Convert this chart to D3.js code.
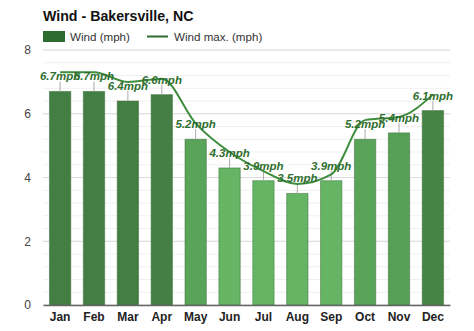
<!DOCTYPE html>
<html><head><meta charset="utf-8">
<script src="https://cdn.jsdelivr.net/npm/d3@7"></script>
<style>body{margin:0;background:#fff;}svg{display:block;font-family:"Liberation Sans",Arial,sans-serif;}</style>
</head><body>
<svg id="c" width="474" height="331"></svg>
<script>
const months = ["Jan","Feb","Mar","Apr","May","Jun","Jul","Aug","Sep","Oct","Nov","Dec"];
const wind = [6.7,6.7,6.4,6.6,5.2,4.3,3.9,3.5,3.9,5.2,5.4,6.1];
const windMax = [7.3,7.3,7.0,7.1,5.7,4.8,4.2,3.8,4.1,5.8,5.9,6.6];
const yTicks = [0,2,4,6,8];
const barColors = ["#437e43","#437e43","#437e43","#467f46","#59a459","#65b565","#65b565","#65b565","#65b565","#59a459","#56a056","#458445"];

const svg = d3.select("#c");
const m = {l:43, r:450, t:50, b:305};
const x = d3.scaleBand().domain(months).range([m.l, m.r]).paddingInner(0.37).paddingOuter(0.19);
const y = d3.scaleLinear().domain([0,8]).range([m.b, m.t]);

// minor gridlines
const minor = d3.range(0, 8.001, 0.4);
svg.append("g").selectAll("line").data(minor).join("line")
  .attr("x1", m.l).attr("x2", m.r).attr("y1", d=>y(d)).attr("y2", d=>y(d))
  .attr("stroke", "#f0f0f0").attr("stroke-width", 1);
// major gridlines
svg.append("g").selectAll("line").data(yTicks).join("line")
  .attr("x1", m.l).attr("x2", m.r).attr("y1", d=>y(d)).attr("y2", d=>y(d))
  .attr("stroke", "#dcdcdc").attr("stroke-width", 1);

// y axis
const ya = svg.append("g").attr("transform", `translate(${m.l},0)`)
  .call(d3.axisLeft(y).tickValues(yTicks).tickSize(0).tickPadding(12).tickFormat(d3.format("d")));
ya.select(".domain").remove();
ya.selectAll("text").attr("font-size", 12).attr("fill", "#444").attr("font-family", "Liberation Sans, Arial, sans-serif");

// bars
svg.append("g").selectAll("rect").data(wind).join("rect")
  .attr("x", (d,i)=>x(months[i])).attr("width", x.bandwidth())
  .attr("y", d=>y(d)).attr("height", d=>y(0)-y(d))
  .attr("fill", (d,i)=>barColors[i]).attr("stroke", "#3a6e3a").attr("stroke-opacity", 0.5).attr("stroke-width", 1);

// small ticks above bars
svg.append("g").selectAll("line").data(wind).join("line")
  .attr("x1", (d,i)=>x(months[i])+x.bandwidth()/2).attr("x2", (d,i)=>x(months[i])+x.bandwidth()/2)
  .attr("y1", d=>y(d)).attr("y2", d=>y(d)-10)
  .attr("stroke", "#aaa").attr("stroke-width", 1);

// x axis
const xa = svg.append("g").attr("transform", `translate(0,${m.b})`)
  .call(d3.axisBottom(x).tickSize(0).tickPadding(7));
xa.select(".domain").attr("stroke", "#666").attr("stroke-width", 1.5);
xa.selectAll("text").attr("font-size", 12).attr("font-weight", "bold").attr("fill", "#222").attr("font-family", "Liberation Sans, Arial, sans-serif");

// max line
const line = d3.line().x((d,i)=>x(months[i])+x.bandwidth()/2).y(d=>y(d)).curve(d3.curveMonotoneX);
svg.append("path").datum(windMax).attr("d", line)
  .attr("fill", "none").attr("stroke", "#3c8c3c").attr("stroke-width", 2);

// labels
svg.append("g").selectAll("text").data(wind).join("text")
  .attr("x", (d,i)=>x(months[i])+x.bandwidth()/2).attr("y", d=>y(d)-11)
  .attr("text-anchor", "middle").attr("font-size", 11.5).attr("font-weight", "bold").attr("font-style", "italic")
  .attr("fill", "#2f6e2f").text(d=>d.toFixed(1)+"mph");

// title
svg.append("text").attr("x", 43).attr("y", 21).attr("font-size", 14.2).attr("font-weight", "bold").attr("fill", "#111")
  .text("Wind - Bakersville, NC");

// legend
svg.append("rect").attr("x", 43).attr("y", 31).attr("width", 22).attr("height", 11).attr("fill", "#2e6b2e");
svg.append("text").attr("x", 70).attr("y", 41).attr("font-size", 11.6).attr("fill", "#333").text("Wind (mph)");
svg.append("line").attr("x1", 147).attr("x2", 168).attr("y1", 36.5).attr("y2", 36.5).attr("stroke", "#2e6b2e").attr("stroke-width", 2);
svg.append("text").attr("x", 174).attr("y", 41).attr("font-size", 11.6).attr("fill", "#333").text("Wind max. (mph)");
</script>
</body></html>
